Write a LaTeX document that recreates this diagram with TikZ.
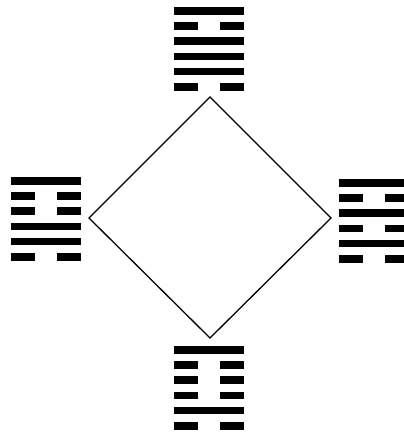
\documentclass[tikz,border=0pt]{standalone}
\tikzset{
  bar/.style={fill=black},
  rhomb/.style={draw=black, line width=1.3pt, line join=miter}
}
\newcommand{\hexg}[3]{%
  \foreach \b [count=\i from 0] in {#3} {
    \pgfmathsetmacro\yy{#2+15.2*\i}
    \ifnum\b=1
      \fill[bar] (#1,\yy) rectangle ++(70,7.6);
    \else
      \fill[bar] (#1,\yy) rectangle ++(24,7.6);
      \fill[bar] ({#1+46},\yy) rectangle ++(24,7.6);
    \fi
  }}
\begin{document}
\begin{tikzpicture}[x=1pt,y=-1pt]
  \clip (0,0) rectangle (404,432);
  \fill[white] (0,0) rectangle (404,432);
  % hexagrams
  \hexg{174}{7}{1,0,1,1,1,0}
  \hexg{11}{177}{1,0,0,1,1,0}
  \hexg{339}{179}{1,0,1,0,1,0}
  \hexg{174}{346}{1,0,0,0,1,0}
  % diamond
  \coordinate (t) at (210,97);
  \coordinate (r) at (331,218);
  \coordinate (b) at (210,338);
  \coordinate (l) at (89,218);
  \draw[rhomb] (t) -- (r) -- (b) -- (l) -- cycle;
\end{tikzpicture}
\end{document}
